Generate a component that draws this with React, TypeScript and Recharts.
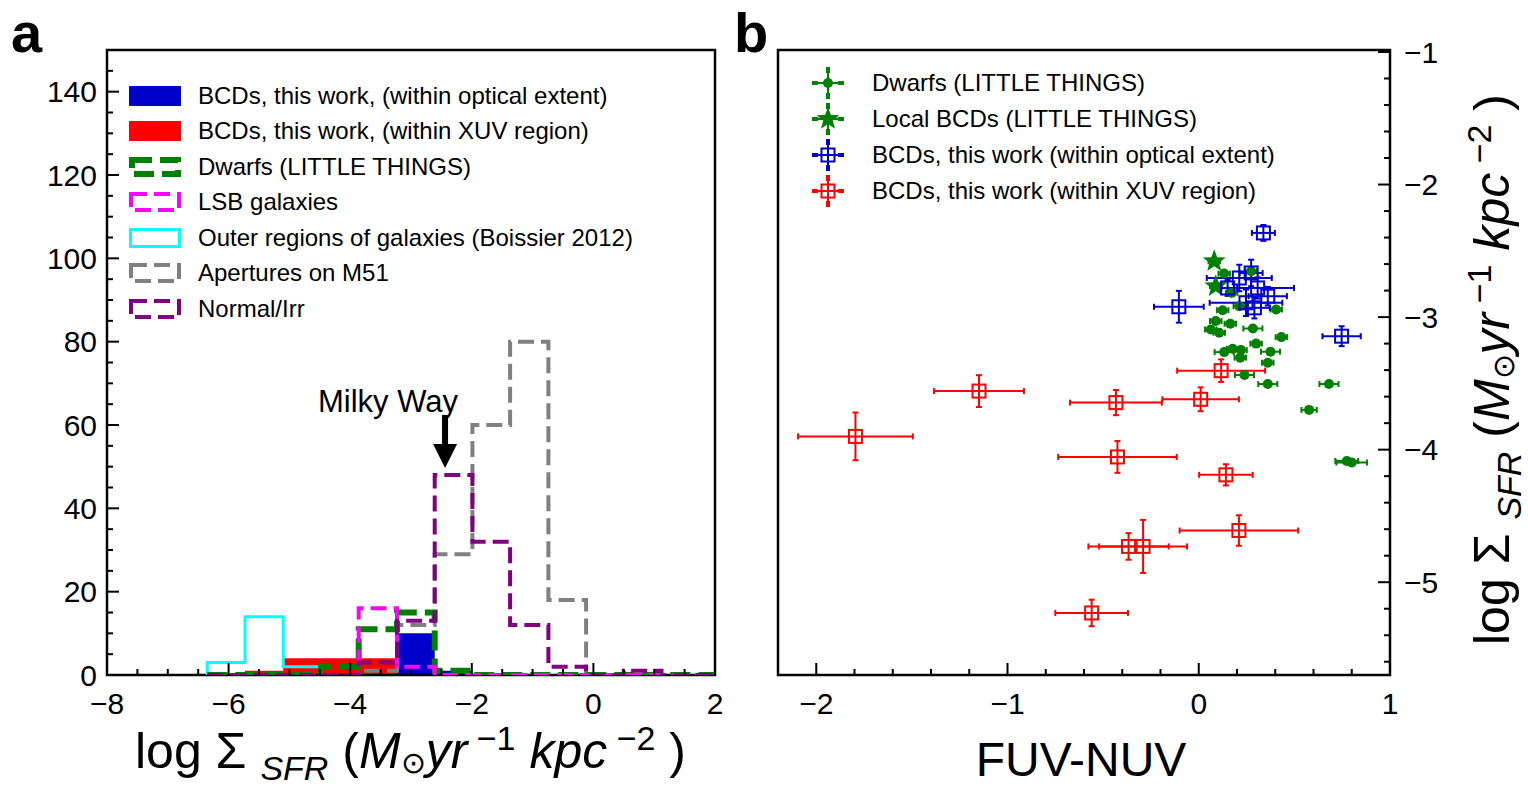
import React from "react";
import {
  ComposedChart,
  Line,
  Area,
  Scatter,
  ErrorBar,
  XAxis,
  YAxis,
  Legend,
  ReferenceArea,
  ReferenceDot,
} from "recharts";

const FONT = '"Liberation Sans", Arial, Helvetica, sans-serif';
const BLUE = "#0000cd";
const RED = "#ff0000";
const GREEN = "#008000";
const MAGENTA = "#ff00ff";
const CYAN = "#00ffff";
const GREY = "#808080";
const PURPLE = "#800080";

// ---------- panel a: histograms of log Sigma_SFR ----------
const binEdges = [-6.35, -5.73, -5.1, -4.48, -3.86, -3.23, -2.61, -1.99, -1.37, -0.74, -0.12, 0.5, 1.12, 1.75, 2.37];
// one count per bin, null = outside that histogram
const countsOptical = [null, null, null, null, null, 10, 1, null, null, null, null, null, null, null];
const countsXuv = [null, 1, 4, 4, 4, 1, null, null, null, null, null, null, null, null];
const countsOuter = [3, 14, 2, null, null, null, null, null, null, null, null, null, null, null];
const countsM51 = [0, 0, 0, 0, 1, 12, 29, 60, 80, 18, null, null, null, null];
const countsDwarfs = [0, 0, 0, 2, 11, 15, 1, 0, 0, 0, 0, 0, 0, 0];
const countsLsb = [0, 0, 0, 0, 16, 2, 0, 0, 0, 0, 0, 0, 0, 0];
const countsNormal = [0, 0, 0, 0, 3, 13, 48, 32, 12, 2, 0, 1, 0, 0];

const histSeries = [
  { key: "optical", counts: countsOptical },
  { key: "xuv", counts: countsXuv },
  { key: "outer", counts: countsOuter },
  { key: "m51", counts: countsM51 },
  { key: "dwarfs", counts: countsDwarfs },
  { key: "lsb", counts: countsLsb },
  { key: "normal", counts: countsNormal },
];

const histLabels = [
  "BCDs, this work, (within optical extent)",
  "BCDs, this work, (within XUV region)",
  "Dwarfs (LITTLE THINGS)",
  "LSB galaxies",
  "Outer regions of galaxies (Boissier 2012)",
  "Apertures on M51",
  "Normal/Irr",
];
const histLegendKeys = ["optical", "xuv", "dwarfs", "lsb", "outer", "m51", "normal"];

const histStyle: Record<string, { color: string; fill?: boolean; width?: number; dash?: string }> = {
  optical: { color: BLUE, fill: true },
  xuv: { color: RED, fill: true },
  dwarfs: { color: GREEN, width: 6, dash: "20 8" },
  lsb: { color: MAGENTA, width: 4, dash: "16 7" },
  outer: { color: CYAN, width: 3 },
  m51: { color: GREY, width: 4, dash: "16 7" },
  normal: { color: PURPLE, width: 4, dash: "16 7" },
};

// step outline: two rows per bin edge (value before / after the edge)
const histRows: Record<string, number | null>[] = [];
binEdges.forEach((edge, i) => {
  const before: Record<string, number | null> = { x: edge };
  const after: Record<string, number | null> = { x: edge };
  histSeries.forEach((s) => {
    const prev = i > 0 ? s.counts[i - 1] : null;
    const next = i < s.counts.length ? s.counts[i] : null;
    before[s.key] = prev != null ? prev : next != null ? 0 : null;
    after[s.key] = next != null ? next : prev != null ? 0 : null;
  });
  histRows.push(before, after);
});

const histXMajor = [-8, -6, -4, -2, 0, 2];
const histYMajor = [0, 20, 40, 60, 80, 100, 120, 140];

// ---------- panel b: log Sigma_SFR vs FUV-NUV ----------
const dwarfColour = [0.133, 0.274, 0.172, 0.212, 0.125, 0.405, 0.089, 0.165, 0.063, 0.107, 0.283, 0.432, 0.3, 0.133, 0.177, 0.221, 0.217, 0.375, 0.361, 0.239, 0.361, 0.681, 0.577, 0.774, 0.8];
const dwarfSigma = [-2.672, -2.654, -2.817, -2.918, -2.948, -2.943, -3.03, -3.05, -3.093, -3.118, -3.086, -3.151, -3.2, -3.264, -3.239, -3.249, -3.306, -3.261, -3.344, -3.437, -3.505, -3.505, -3.7, -4.085, -4.097];
const dwarfErrX = [0.03, 0.03, 0.03, 0.03, 0.03, 0.03, 0.03, 0.03, 0.03, 0.03, 0.05, 0.03, 0.03, 0.05, 0.03, 0.03, 0.03, 0.05, 0.03, 0.05, 0.05, 0.05, 0.04, 0.06, 0.08];

const localBcdColour = [0.081, 0.089];
const localBcdSigma = [-2.579, -2.767];

const opticalColour = [0.338, -0.104, 0.747, 0.212, 0.274, 0.151, 0.308, 0.361, 0.247, 0.291];
const opticalSigma = [-2.365, -2.922, -3.144, -2.705, -2.667, -2.78, -2.78, -2.842, -2.892, -2.93];
const opticalErrX = [0.06, 0.13, 0.1, 0.17, 0.06, 0.05, 0.19, 0.1, 0.19, 0.08];
const opticalErrY = [0.06, 0.12, 0.075, 0.1, 0.1, 0.06, 0.08, 0.07, 0.1, 0.08];

const xuvColour = [-1.795, -1.149, -0.433, 0.01, 0.117, -0.425, 0.142, 0.21, -0.367, -0.291, -0.56];
const xuvSigma = [-3.9, -3.558, -3.645, -3.62, -3.404, -4.055, -4.19, -4.61, -4.73, -4.73, -5.232];
const xuvErrX = [0.3, 0.235, 0.24, 0.2, 0.23, 0.31, 0.14, 0.31, 0.21, 0.23, 0.19];
const xuvErrY = [0.18, 0.12, 0.095, 0.09, 0.085, 0.12, 0.08, 0.115, 0.1, 0.2, 0.1];

const colourLabels = [
  "Dwarfs (LITTLE THINGS)",
  "Local BCDs (LITTLE THINGS)",
  "BCDs, this work (within optical extent)",
  "BCDs, this work (within XUV region)",
];

const colourXMajor = [-2, -1, 0, 1];
const colourYMajor = [-5, -4, -3, -2, -1];

const dwarfPoints = dwarfColour.map((x, i) => ({ x, y: dwarfSigma[i], xe: dwarfErrX[i] }));
const localBcdPoints = localBcdColour.map((x, i) => ({ x, y: localBcdSigma[i], xe: 0.03 }));
const opticalPoints = opticalColour.map((x, i) => ({ x, y: opticalSigma[i], xe: opticalErrX[i], ye: opticalErrY[i] }));
const xuvPoints = xuvColour.map((x, i) => ({ x, y: xuvSigma[i], xe: xuvErrX[i], ye: xuvErrY[i] }));

// minor tick positions
const steps = (from: number, count: number, step: number) =>
  Array.from({ length: count }, (_, i) => Math.round((from + i * step) * 1000) / 1000);

const histXTicks = steps(-8, 21, 0.5);
const histYTicks = steps(0, 31, 5);
const colourXTicks = steps(-2.2, 17, 0.2);
const colourYTicks = steps(-5.6, 24, 0.2);

const isIn = (list: number[], v: number) => list.some((m) => Math.abs(m - v) < 1e-6);
const fmt = (v: number) => (v < 0 ? "\u2212" + Math.abs(v) : String(v));
const TICK_FONT = 30;

const bottomTick = (major: number[]) => (props: any) => {
  const { x, y, payload } = props;
  const big = isIn(major, payload.value);
  return (
    <g>
      <line x1={x} x2={x} y1={y} y2={y - (big ? 12 : 6)} stroke="#000" strokeWidth={2} />
      {big && (
        <text x={x} y={y + 39} textAnchor="middle" fontSize={TICK_FONT} fontFamily={FONT} fill="#000">
          {fmt(payload.value)}
        </text>
      )}
    </g>
  );
};

const sideTick = (major: number[], side: "left" | "right") => (props: any) => {
  const { x, y, payload } = props;
  const big = isIn(major, payload.value);
  const dir = side === "left" ? 1 : -1;
  return (
    <g>
      <line x1={x} x2={x + dir * (big ? 12 : 6)} y1={y} y2={y} stroke="#000" strokeWidth={2} />
      {big && (
        <text
          x={side === "left" ? x - 10 : x + 14}
          y={y}
          dy="0.36em"
          textAnchor={side === "left" ? "end" : "start"}
          fontSize={TICK_FONT}
          fontFamily={FONT}
          fill="#000"
        >
          {fmt(payload.value)}
        </text>
      )}
    </g>
  );
};

function HistSwatch({ k }: { k: string }) {
  const s = histStyle[k];
  if (s.fill) return <rect x={1} y={3} width={52} height={20} fill={s.color} />;
  const w = s.width || 3;
  return (
    <rect
      x={1 + w / 2}
      y={3 + w / 2}
      width={52 - w}
      height={20 - w}
      fill="none"
      stroke={s.color}
      strokeWidth={w}
      strokeDasharray={s.dash}
    />
  );
}

function HistLegend() {
  return (
    <div style={{ fontFamily: FONT, fontSize: 24, color: "#000" }}>
      {histLegendKeys.map((k, i) => (
        <div key={k} style={{ display: "flex", alignItems: "center", height: 35.5 }}>
          <svg width={55} height={26}>
            <HistSwatch k={k} />
          </svg>
          <span style={{ marginLeft: 15, whiteSpace: "nowrap", lineHeight: 1 }}>{histLabels[i]}</span>
        </div>
      ))}
    </div>
  );
}

const Arrow = (props: any) => {
  const { cx, cy } = props;
  return (
    <g>
      <text x={cx - 57} y={cy - 56} textAnchor="middle" fontSize={31} fontFamily={FONT} fill="#000">
        Milky Way
      </text>
      <rect x={cx - 3} y={cy - 53} width={6} height={32} fill="#000" />
      <polygon points={`${cx - 12},${cy - 24} ${cx + 12},${cy - 24} ${cx},${cy}`} fill="#000" />
    </g>
  );
};

function HistPanel() {
  return (
    <ComposedChart width={740} height={790} data={histRows} margin={{ top: 50, right: 25, bottom: 85, left: 0 }}>
      <XAxis
        dataKey="x"
        type="number"
        domain={[-8, 2]}
        allowDataOverflow
        ticks={histXTicks}
        interval={0}
        tick={bottomTick(histXMajor)}
        tickLine={false}
        axisLine={false}
        tickSize={0}
        tickMargin={0}
        height={30}
      />
      <YAxis
        type="number"
        domain={[0, 150]}
        allowDataOverflow
        ticks={histYTicks}
        interval={0}
        tick={sideTick(histYMajor, "left")}
        tickLine={false}
        axisLine={false}
        tickSize={0}
        tickMargin={0}
        width={107}
      />
      {["xuv", "optical"].map((k) => (
        <Area
          key={k}
          dataKey={k}
          type="linear"
          stroke="none"
          fill={histStyle[k].color}
          fillOpacity={1}
          dot={false}
          activeDot={false}
          isAnimationActive={false}
        />
      ))}
      {["outer", "m51", "dwarfs", "lsb", "normal"].map((k) => (
        <Line
          key={k}
          dataKey={k}
          type="linear"
          stroke={histStyle[k].color}
          strokeWidth={histStyle[k].width}
          strokeDasharray={histStyle[k].dash}
          dot={false}
          activeDot={false}
          isAnimationActive={false}
        />
      ))}
      <ReferenceDot x={-2.44} y={49.7} r={0} ifOverflow="visible" shape={Arrow} />
      <ReferenceArea x1={-8} x2={2} y1={0} y2={150} fill="none" stroke="#000" strokeWidth={2.5} ifOverflow="visible" />
      <Legend
        layout="vertical"
        align="center"
        verticalAlign="middle"
        content={() => <HistLegend />}
        wrapperStyle={{ left: 128, top: 78, width: 580, height: 250 }}
      />
    </ComposedChart>
  );
}

// ---------- panel b markers ----------
const Dot = (props: any) => <circle cx={props.cx} cy={props.cy} r={5} fill={GREEN} />;

const starPoints = (cx: number, cy: number, ro: number, ri: number) =>
  Array.from({ length: 10 }, (_, i) => {
    const a = -Math.PI / 2 + (i * Math.PI) / 5;
    const r = i % 2 === 0 ? ro : ri;
    return `${cx + r * Math.cos(a)},${cy + r * Math.sin(a)}`;
  }).join(" ");

const Star = (props: any) => <polygon points={starPoints(props.cx, props.cy, 12, 5)} fill={GREEN} />;

const openSquare = (colour: string) => (props: any) => (
  <rect x={props.cx - 6.5} y={props.cy - 6.5} width={13} height={13} fill="none" stroke={colour} strokeWidth={2} />
);

function LegendMarker({ i }: { i: number }) {
  const colour = i < 2 ? GREEN : i === 2 ? BLUE : RED;
  const c = 20;
  const m = 18;
  return (
    <svg width={40} height={36}>
      <line x1={c - 15} x2={c + 15} y1={m} y2={m} stroke={colour} strokeWidth={2} />
      <line x1={c} x2={c} y1={m - 15} y2={m + 15} stroke={colour} strokeWidth={2} />
      <rect x={c - 16} y={m - 2} width={6} height={4} fill={colour} />
      <rect x={c + 10} y={m - 2} width={6} height={4} fill={colour} />
      <rect x={c - 2} y={m - 16} width={4} height={6} fill={colour} />
      <rect x={c - 2} y={m + 10} width={4} height={6} fill={colour} />
      {i === 0 && <circle cx={c} cy={m} r={5} fill={colour} />}
      {i === 1 && <polygon points={starPoints(c, m, 12, 5)} fill={colour} />}
      {i >= 2 && <rect x={c - 6.5} y={m - 6.5} width={13} height={13} fill="#fff" stroke={colour} strokeWidth={2} />}
      {i >= 2 && <line x1={c - 6} x2={c + 6} y1={m} y2={m} stroke={colour} strokeWidth={2} />}
      {i >= 2 && <line x1={c} x2={c} y1={m - 6} y2={m + 6} stroke={colour} strokeWidth={2} />}
    </svg>
  );
}

function ColourLegend() {
  return (
    <div style={{ fontFamily: FONT, fontSize: 24, color: "#000" }}>
      {colourLabels.map((label, i) => (
        <div key={label} style={{ display: "flex", alignItems: "center", height: 36 }}>
          <LegendMarker i={i} />
          <span style={{ marginLeft: 24, whiteSpace: "nowrap", lineHeight: 1 }}>{label}</span>
        </div>
      ))}
    </div>
  );
}

function ColourPanel() {
  return (
    <ComposedChart width={768} height={790} margin={{ top: 50, right: 0, bottom: 85, left: 18 }}>
      <XAxis
        dataKey="x"
        type="number"
        domain={[-2.2, 1.0]}
        allowDataOverflow
        ticks={colourXTicks}
        interval={0}
        tick={bottomTick(colourXMajor)}
        tickLine={false}
        axisLine={false}
        tickSize={0}
        tickMargin={0}
        height={30}
      />
      <YAxis
        dataKey="y"
        orientation="right"
        type="number"
        domain={[-5.7, -0.985]}
        allowDataOverflow
        ticks={colourYTicks}
        interval={0}
        tick={sideTick(colourYMajor, "right")}
        tickLine={false}
        axisLine={false}
        tickSize={0}
        tickMargin={0}
        width={138}
      />
      <Scatter data={xuvPoints} shape={openSquare(RED)} isAnimationActive={false}>
        <ErrorBar dataKey="xe" direction="x" stroke={RED} strokeWidth={2} width={3} />
        <ErrorBar dataKey="ye" direction="y" stroke={RED} strokeWidth={2} width={3} />
      </Scatter>
      <Scatter data={dwarfPoints} shape={Dot} isAnimationActive={false}>
        <ErrorBar dataKey="xe" direction="x" stroke={GREEN} strokeWidth={2} width={3} />
      </Scatter>
      <Scatter data={localBcdPoints} shape={Star} isAnimationActive={false}>
        <ErrorBar dataKey="xe" direction="x" stroke={GREEN} strokeWidth={2} width={3} />
      </Scatter>
      <Scatter data={opticalPoints} shape={openSquare(BLUE)} isAnimationActive={false}>
        <ErrorBar dataKey="xe" direction="x" stroke={BLUE} strokeWidth={2} width={3} />
        <ErrorBar dataKey="ye" direction="y" stroke={BLUE} strokeWidth={2} width={3} />
      </Scatter>
      <ReferenceArea x1={-2.2} x2={1.0} y1={-5.7} y2={-0.985} fill="none" stroke="#000" strokeWidth={2.5} ifOverflow="visible" />
      <Legend
        layout="vertical"
        align="center"
        verticalAlign="middle"
        content={() => <ColourLegend />}
        wrapperStyle={{ left: 48, top: 65, width: 520, height: 150 }}
      />
    </ComposedChart>
  );
}

function SigmaTitle({ transform }: { transform: string }) {
  return (
    <text transform={transform} fontSize={50} fontFamily={FONT} fill="#000" style={{ whiteSpace: "pre" }}>
      <tspan>log Σ </tspan>
      <tspan fontSize={34} fontStyle="italic" dy={12}>SFR</tspan>
      <tspan dy={-12}> (</tspan>
      <tspan fontStyle="italic">M</tspan>
      <tspan fontSize={30} dy={5}>⊙</tspan>
      <tspan fontStyle="italic" dy={-5}>yr</tspan>
      <tspan fontSize={34} dy={-18}> −1</tspan>
      <tspan fontStyle="italic" dy={18}> kpc</tspan>
      <tspan fontSize={34} dy={-18}> −2</tspan>
      <tspan dy={18}> )</tspan>
    </text>
  );
}

export default function App() {
  return (
    <div style={{ position: "absolute", left: 0, top: 0, width: 1528, height: 790, background: "#fff" }}>
      <div style={{ position: "absolute", left: 0, top: 0 }}>
        <HistPanel />
      </div>
      <div style={{ position: "absolute", left: 760, top: 0 }}>
        <ColourPanel />
      </div>
      <svg width={1528} height={790} style={{ position: "absolute", left: 0, top: 0, pointerEvents: "none" }}>
        <text x={11} y={52} fontSize={56} fontWeight="bold" fontFamily={FONT} fill="#000">a</text>
        <text x={734} y={52} fontSize={56} fontWeight="bold" fontFamily={FONT} fill="#000">b</text>
        <SigmaTitle transform="translate(135,768)" />
        <SigmaTitle transform="translate(1509,645) rotate(-90)" />
        <text x={1081} y={776} textAnchor="middle" fontSize={48} fontFamily={FONT} fill="#000">FUV-NUV</text>
      </svg>
    </div>
  );
}
